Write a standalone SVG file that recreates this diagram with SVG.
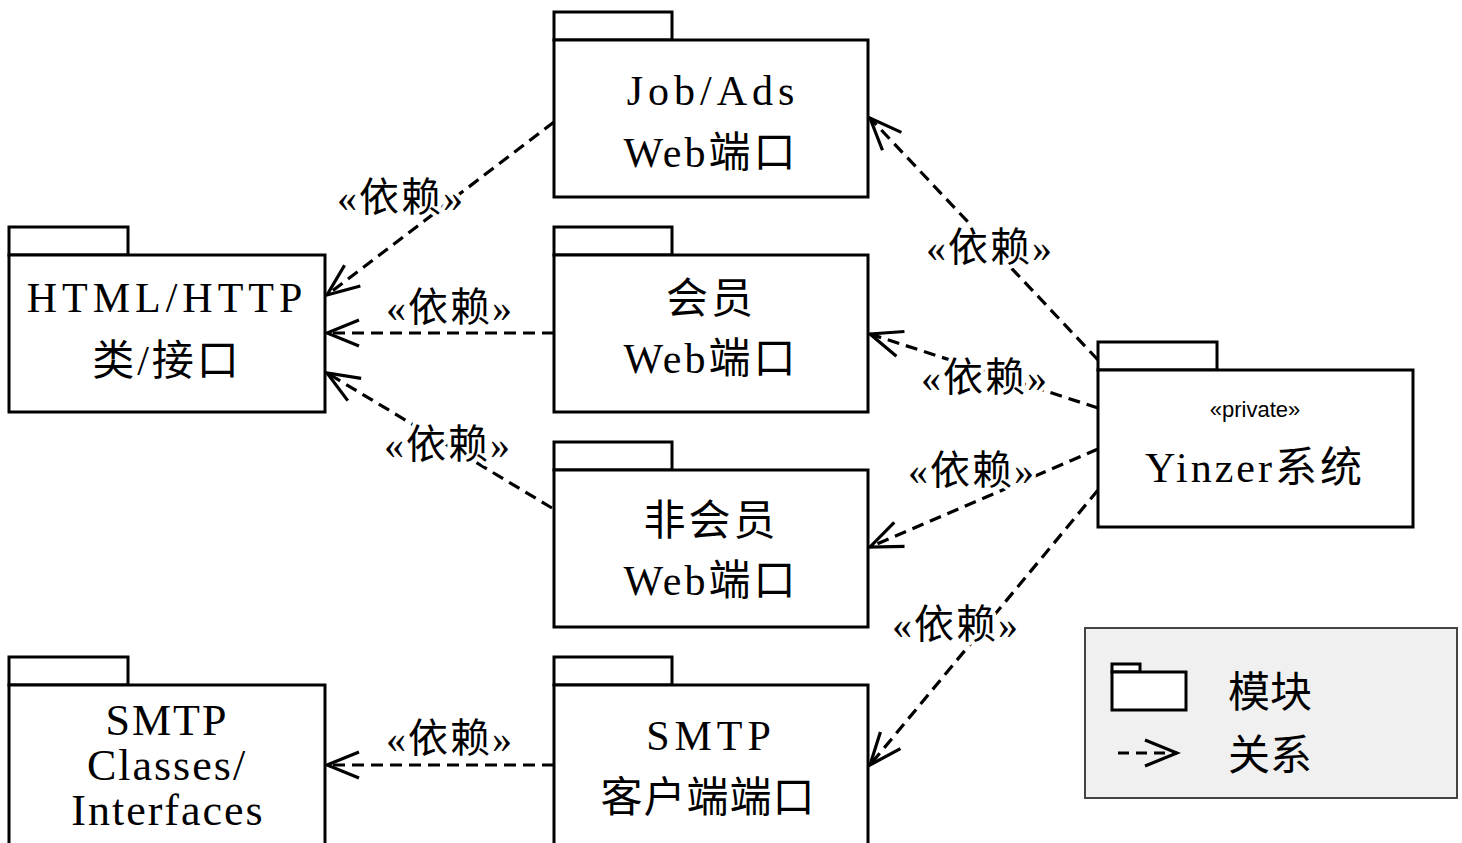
<svg xmlns="http://www.w3.org/2000/svg" width="1462" height="843" viewBox="0 0 1462 843">
<defs>
<style>
.box{fill:#fff;stroke:#000;stroke-width:3}
.t{font-family:"Liberation Serif","Noto Sans CJK SC",serif;font-size:42px;text-anchor:middle;fill:#000;letter-spacing:3px}
.w{letter-spacing:5px}
.c{letter-spacing:1px}
.lbl{font-family:"Liberation Serif","Noto Sans CJK SC",serif;font-size:40px;letter-spacing:2px;text-anchor:middle;fill:#000;stroke:#fff;stroke-width:8px;paint-order:stroke;stroke-linejoin:round}
.dep{fill:none;stroke:#000;stroke-width:3.2;stroke-dasharray:12 7;marker-end:url(#arr)}
</style>
<marker id="arr" markerUnits="userSpaceOnUse" markerWidth="40" markerHeight="40" viewBox="-36 -20 40 40" refX="0" refY="0" orient="auto">
<path d="M-32,-13 L0,0 L-32,13" fill="none" stroke="#000" stroke-width="3.2"/>
</marker>
</defs>
<rect width="1462" height="843" fill="#fff"/>

<g id="connectors">
<line class="dep" x1="554" y1="122" x2="327" y2="295"/>
<line class="dep" x1="554" y1="333" x2="327" y2="333"/>
<line class="dep" x1="552" y1="508" x2="327" y2="373"/>
<line class="dep" x1="554" y1="765" x2="327" y2="765"/>
<line class="dep" x1="1098" y1="360" x2="870" y2="118"/>
<line class="dep" x1="1098" y1="408" x2="870" y2="334"/>
<line class="dep" x1="1098" y1="449" x2="870" y2="547"/>
<line class="dep" x1="1098" y1="490" x2="870" y2="765"/>
<text class="lbl" x="401" y="211">«依赖»</text>
<text class="lbl" x="450" y="321">«依赖»</text>
<text class="lbl" x="448" y="458">«依赖»</text>
<text class="lbl" x="450" y="752">«依赖»</text>
<text class="lbl" x="990" y="261">«依赖»</text>
<text class="lbl" x="985" y="391">«依赖»</text>
<text class="lbl" x="972" y="484">«依赖»</text>
<text class="lbl" x="956" y="638">«依赖»</text>
</g>

<g id="html">
<rect class="box" x="9" y="227" width="119" height="28"/>
<rect class="box" x="9" y="255" width="316" height="157"/>
<text class="t w" x="167" y="312">HTML/HTTP</text>
<text class="t" x="167" y="375">类/接口</text>
</g>

<g id="jobads">
<rect class="box" x="554" y="12" width="118" height="28"/>
<rect class="box" x="554" y="40" width="314" height="157"/>
<text class="t w" x="713" y="105">Job/Ads</text>
<text class="t" x="711" y="167">Web端口</text>
</g>

<g id="member">
<rect class="box" x="554" y="227" width="118" height="28"/>
<rect class="box" x="554" y="255" width="314" height="157"/>
<text class="t" x="711" y="313">会员</text>
<text class="t" x="711" y="373">Web端口</text>
</g>

<g id="nonmember">
<rect class="box" x="554" y="442" width="118" height="28"/>
<rect class="box" x="554" y="470" width="314" height="157"/>
<text class="t" x="711" y="535">非会员</text>
<text class="t" x="711" y="595">Web端口</text>
</g>

<g id="smtpclient">
<rect class="box" x="554" y="657" width="118" height="28"/>
<rect class="box" x="554" y="685" width="314" height="160"/>
<text class="t w" x="711" y="750">SMTP</text>
<text class="t c" x="708" y="812">客户端端口</text>
</g>

<g id="smtpclasses">
<rect class="box" x="9" y="657" width="119" height="28"/>
<rect class="box" x="9" y="685" width="316" height="160"/>
<text class="t" x="167" y="735" style="font-size:44px;letter-spacing:2px">SMTP</text>
<text class="t" x="167" y="780" style="font-size:44px;letter-spacing:2px">Classes/</text>
<text class="t" x="168" y="825" style="font-size:44px;letter-spacing:2px">Interfaces</text>
</g>

<g id="yinzer">
<rect class="box" x="1098" y="342" width="119" height="28"/>
<rect class="box" x="1098" y="370" width="315" height="157"/>
<text x="1255" y="417" style="font-family:'Liberation Sans','Noto Sans',sans-serif;font-size:22px;text-anchor:middle">«private»</text>
<text class="t" x="1255" y="482">Yinzer系统</text>
</g>

<g id="legend">
<rect x="1085" y="628" width="372" height="170" fill="#f0f0f0" stroke="#444" stroke-width="2"/>
<rect x="1112" y="664" width="28" height="8" fill="#fff" stroke="#000" stroke-width="3"/>
<rect x="1112" y="672" width="74" height="38" fill="#fff" stroke="#000" stroke-width="3"/>
<line x1="1118" y1="753" x2="1177" y2="753" stroke="#000" stroke-width="3" stroke-dasharray="11 7" marker-end="url(#arr)"/>
<text class="t" x="1270" y="707" style="letter-spacing:0">模块</text>
<text class="t" x="1270" y="770" style="letter-spacing:0">关系</text>
</g>
</svg>
